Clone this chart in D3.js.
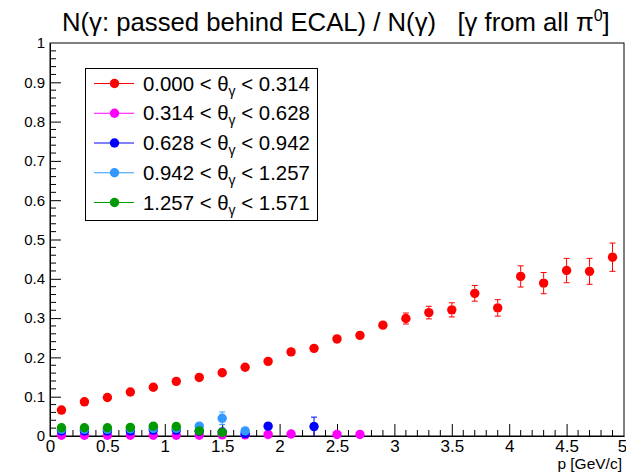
<!DOCTYPE html>
<html>
<head>
<meta charset="utf-8">
<script src="https://cdn.jsdelivr.net/npm/d3@7"></script>
<style>
  body { margin: 0; background: #fff; }
  svg { display: block; font-family: "Liberation Sans", Arial, sans-serif; }
  text { white-space: pre; }
</style>
</head>
<body>
<div id="chart"></div>
<script>
(function () {

// --- data ---
const xDomain = [0, 5];
const yDomain = [0, 1];
const xTickLabels = ["0", "0.5", "1", "1.5", "2", "2.5", "3", "3.5", "4", "4.5", "5"];
const yTickLabels = ["0", "0.1", "0.2", "0.3", "0.4", "0.5", "0.6", "0.7", "0.8", "0.9", "1"];

const legendLo = ["0.000", "0.314", "0.628", "0.942", "1.257"];
const legendHi = ["0.314", "0.628", "0.942", "1.257", "1.571"];
const colors = ["#ff0000", "#ff00ff", "#0000ff", "#3399ff", "#009900"];

// theta bin 0.000 - 0.314
const p0 = [0.1, 0.3, 0.5, 0.7, 0.9, 1.1, 1.3, 1.5, 1.7, 1.9, 2.1, 2.3, 2.5,
            2.7, 2.9, 3.1, 3.3, 3.5, 3.7, 3.9, 4.1, 4.3, 4.5, 4.7, 4.9];
const v0 = [0.066, 0.087, 0.098, 0.112, 0.124, 0.139, 0.149, 0.161, 0.175, 0.190, 0.214, 0.223, 0.247,
            0.256, 0.282, 0.299, 0.314, 0.321, 0.363, 0.326, 0.406, 0.389, 0.421, 0.419, 0.455];
const e0 = [0.002, 0.002, 0.003, 0.003, 0.003, 0.004, 0.004, 0.005, 0.005, 0.006, 0.006, 0.007, 0.008,
            0.009, 0.011, 0.014, 0.016, 0.018, 0.020, 0.021, 0.027, 0.027, 0.031, 0.033, 0.036];

// theta bin 0.314 - 0.628
const p1 = [0.1, 0.3, 0.5, 0.7, 0.9, 1.1, 1.3, 1.5, 1.7, 1.9, 2.1, 2.5, 2.7];
const v1 = [0.002, 0.002, 0.002, 0.002, 0.002, 0.002, 0.002, 0.003, 0.003, 0.004, 0.005, 0.004, 0.004];
const e1 = [0.001, 0.001, 0.001, 0.001, 0.001, 0.001, 0.001, 0.001, 0.002, 0.002, 0.003, 0.003, 0.003];

// theta bin 0.628 - 0.942
const p2 = [0.1, 0.3, 0.5, 0.7, 0.9, 1.1, 1.3, 1.5, 1.7, 1.9, 2.3];
const v2 = [0.013, 0.013, 0.013, 0.013, 0.015, 0.015, 0.012, 0.010, 0.006, 0.025, 0.024];
const e2 = [0.001, 0.001, 0.002, 0.002, 0.002, 0.003, 0.003, 0.004, 0.005, 0.008, 0.024];

// theta bin 0.942 - 1.257
const p3 = [0.1, 0.3, 0.5, 0.7, 0.9, 1.1, 1.3, 1.5, 1.7];
const v3 = [0.017, 0.017, 0.017, 0.018, 0.019, 0.019, 0.025, 0.045, 0.013];
const e3 = [0.001, 0.002, 0.002, 0.002, 0.003, 0.004, 0.006, 0.016, 0.008];

// theta bin 1.257 - 1.571
const p4 = [0.1, 0.3, 0.5, 0.7, 0.9, 1.1, 1.3, 1.5];
const v4 = [0.021, 0.021, 0.021, 0.022, 0.025, 0.024, 0.013, 0.009];
const e4 = [0.001, 0.001, 0.002, 0.002, 0.003, 0.003, 0.004, 0.005];

const series = [
  {p: p0, v: v0, e: e0},
  {p: p1, v: v1, e: e1},
  {p: p2, v: v2, e: e2},
  {p: p3, v: v3, e: e3},
  {p: p4, v: v4, e: e4}
];

// --- layout ---
const W = 626, H = 472;
const frame = {left: 50, right: 624, top: 43, bottom: 436};
const r = 4.7;

const svg = d3.select("#chart").append("svg")
    .attr("width", W)
    .attr("height", H);

const x = d3.scaleLinear().domain(xDomain).range([frame.left, frame.right]);
const y = d3.scaleLinear().domain(yDomain).range([frame.bottom, frame.top]);

// frame box
svg.append("rect")
  .attr("x", frame.left).attr("y", frame.top)
  .attr("width", frame.right - frame.left).attr("height", frame.bottom - frame.top)
  .attr("fill", "none").attr("stroke", "#000").attr("stroke-width", 1);

// x axis: major every 0.5, minor every 0.1, ticks point inward (ROOT style)
const xMajor = xTickLabels.map(Number);
const xMinor = d3.range(0, 50).map(i => i / 10).filter(t => !xMajor.some(m => Math.abs(m - t) < 1e-9));
const xAxis = d3.axisBottom(x).tickValues(xMajor).tickFormat((d, i) => xTickLabels[i])
  .tickSizeInner(-12).tickSizeOuter(0).tickPadding(4);
const gx = svg.append("g").attr("transform", `translate(0,${frame.bottom})`).call(xAxis);
gx.selectAll(".tick").filter(d => d === 0 || d === 5).select("line").remove();
gx.append("g").selectAll("line").data(xMinor).join("line")
  .attr("x1", d => x(d)).attr("x2", d => x(d)).attr("y1", 0).attr("y2", -6)
  .attr("stroke", "#000");
gx.selectAll("text").attr("font-size", 17).attr("fill", "#000")
  .attr("font-family", "Liberation Sans, Arial, sans-serif");
// last label sits against the right edge, keep it inside
gx.selectAll(".tick").filter(d => d === 5).select("text").attr("dx", -2);
gx.select(".domain").attr("stroke", "#000");

// y axis: major every 0.1, minor every 0.02
const yMajor = yTickLabels.map(Number);
const yMinor = d3.range(0, 50).map(i => i / 50).filter(t => !yMajor.some(m => Math.abs(m - t) < 1e-9));
const yAxis = d3.axisLeft(y).tickValues(yMajor).tickFormat((d, i) => yTickLabels[i])
  .tickSizeInner(-11).tickSizeOuter(0).tickPadding(5);
const gy = svg.append("g").attr("transform", `translate(${frame.left},0)`).call(yAxis);
gy.selectAll(".tick").filter(d => d === 0 || d === 1).select("line").remove();
gy.append("g").selectAll("line").data(yMinor).join("line")
  .attr("y1", d => y(d)).attr("y2", d => y(d)).attr("x1", 0).attr("x2", 6)
  .attr("stroke", "#000");
gy.selectAll("text").attr("font-size", 15).attr("fill", "#000")
  .attr("font-family", "Liberation Sans, Arial, sans-serif");
gy.select(".domain").attr("stroke", "#000");

// x axis title
svg.append("text")
  .attr("x", 622).attr("y", 469)
  .attr("text-anchor", "end")
  .attr("font-size", 15.5)
  .text("p [GeV/c]");

// title
const title = svg.append("text")
  .attr("x", 62).attr("y", 31)
  .attr("font-size", 25.7);
title.append("tspan").text("N(γ: passed behind ECAL) / N(γ)   [γ from all π");
title.append("tspan").attr("font-size", 16).attr("dy", -10).text("0");
title.append("tspan").attr("dy", 10).text("]");

// data: error bars (drawn only outside the marker) then markers
series.forEach((s, k) => {
  const g = svg.append("g");
  const pts = s.p.map((p, i) => ({p: p, v: s.v[i], e: s.e[i]}));
  const withBars = pts.filter(d => y(d.v - d.e) - y(d.v + d.e) > 2 * r);

  g.selectAll("line.up").data(withBars).join("line")
    .attr("x1", d => x(d.p)).attr("x2", d => x(d.p))
    .attr("y1", d => y(d.v) - r).attr("y2", d => y(d.v + d.e))
    .attr("stroke", colors[k]);
  g.selectAll("line.dn").data(withBars).join("line")
    .attr("x1", d => x(d.p)).attr("x2", d => x(d.p))
    .attr("y1", d => y(d.v) + r).attr("y2", d => Math.min(y(d.v - d.e), frame.bottom))
    .attr("stroke", colors[k]);
  g.selectAll("line.cap1").data(withBars).join("line")
    .attr("x1", d => x(d.p) - 3).attr("x2", d => x(d.p) + 3)
    .attr("y1", d => y(d.v + d.e)).attr("y2", d => y(d.v + d.e))
    .attr("stroke", colors[k]);
  g.selectAll("line.cap2").data(withBars.filter(d => y(d.v - d.e) < frame.bottom)).join("line")
    .attr("x1", d => x(d.p) - 3).attr("x2", d => x(d.p) + 3)
    .attr("y1", d => y(d.v - d.e)).attr("y2", d => y(d.v - d.e))
    .attr("stroke", colors[k]);

  g.selectAll("circle").data(pts).join("circle")
    .attr("cx", d => x(d.p)).attr("cy", d => y(d.v)).attr("r", r)
    .attr("fill", colors[k]);
});

// legend
const leg = svg.append("g");
leg.append("rect")
  .attr("x", 85.5).attr("y", 68.5).attr("width", 232).attr("height", 152)
  .attr("fill", "#fff").attr("stroke", "#000");
const rowY = d3.scaleLinear().domain([0, 4]).range([83.5, 202.5]);
legendLo.forEach((lo, i) => {
  const yy = rowY(i);
  leg.append("line").attr("x1", 94).attr("x2", 134).attr("y1", yy).attr("y2", yy)
    .attr("stroke", colors[i]);
  leg.append("circle").attr("cx", 114.5).attr("cy", yy).attr("r", r).attr("fill", colors[i]);
  const t = leg.append("text").attr("x", 143).attr("y", yy + 7).attr("font-size", 20.4);
  t.append("tspan").text(lo + " < θ");
  t.append("tspan").attr("font-size", 14).attr("dy", 5).text("γ");
  t.append("tspan").attr("dy", -5).text(" < " + legendHi[i]);
});

})()
</script>
</body>
</html>
